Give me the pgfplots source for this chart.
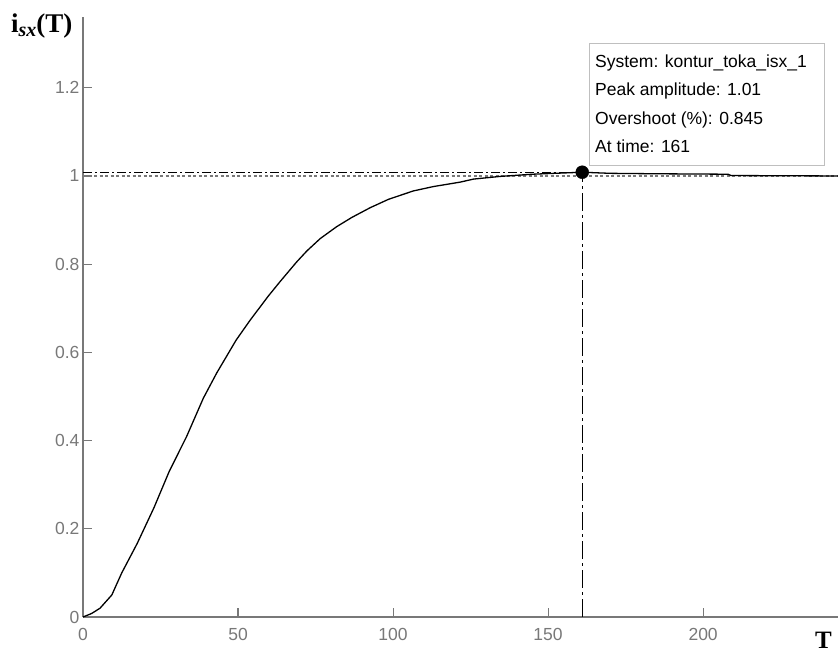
\documentclass[border=0pt]{standalone}
\usepackage{pgfplots}
\pgfplotsset{compat=1.18}
\usepackage{fontspec}
\setmainfont{Liberation Sans}
\newfontfamily\serifb{Liberation Serif}
\definecolor{axgray}{RGB}{120,120,120}
\begin{document}
\begin{tikzpicture}[x=1pt,y=1pt]
\useasboundingbox (0,0) rectangle (838,655);
\begin{axis}[
  at={(83pt,38pt)}, anchor=south west,
  scale only axis, width=755pt, height=600pt,
  xmin=0, xmax=243.5, ymin=0, ymax=1.3605,
  axis lines=left,
  axis line style={-, draw=axgray, line width=1.1pt},
  tick align=inside, major tick length=9pt,
  tick style={draw=axgray, line width=1.1pt},
  xtick={0,50,100,150,200},
  ytick={0,0.2,0.4,0.6,0.8,1,1.2},
  yticklabels={0,0.2,0.4,0.6,0.8,1,1.2},
  ticklabel style={font=\fontsize{17.5}{17.5}\selectfont, text=axgray},
  xticklabel style={yshift=-8pt},
  /pgf/number format/assume math mode=true,
  clip=false,
]
\addplot[axgray, line width=1.8pt, dash pattern=on 3pt off 2.5pt] coordinates {(0,1) (243.5,1)};
\addplot[black, line width=1pt, dash pattern=on 9pt off 3pt on 2pt off 3pt] coordinates {(0,1.0085) (161,1.0085)};
\addplot[black, line width=1pt, dash pattern=on 18pt off 4pt on 3pt off 4pt] coordinates {(161,0) (161,1.0085)};
\addplot[black, line width=1.3pt] coordinates {
(0,0) (2.8,0.008) (5.5,0.02) (9.3,0.05) (12.5,0.10) (17.5,0.167) (22.9,0.248)
(27.8,0.33) (33.4,0.409) (38.8,0.496) (43.1,0.553) (49.4,0.628) (53.9,0.673)
(59.8,0.728) (63.5,0.760) (68.9,0.805) (72.2,0.830) (76.5,0.858) (81.8,0.885)
(86.7,0.906) (92.6,0.928) (98.5,0.947) (106.5,0.966) (113,0.976) (121.6,0.986)
(126,0.993) (134.5,0.999) (145,1.004) (161,1.0085) (170,1.006) (185,1.005)
(208,1.004) (209,1.001) (243.5,1.0)
};
\addplot[only marks, mark=*, mark size=6.5pt, black] coordinates {(161,1.0085)};
\end{axis}
% data tip box
\draw[black!25, fill=white, line width=1pt] (589,489) rectangle (824,611);
\begin{scope}[every node/.style={anchor=west, inner sep=0pt, text height=13pt, text depth=4pt, font=\fontsize{17.5}{20}\selectfont}]
\node at (595,592) {System: kontur\_toka\_isx\_1};
\node at (595,564) {Peak amplitude: 1.01};
\node at (595,535) {Overshoot (\%): 0.845};
\node at (595,507) {At time: 161};
\end{scope}
% axis labels
\node[anchor=base west, inner sep=0pt, font=\serifb\bfseries\fontsize{27}{27}\selectfont] at (11,622)
  {i{\fontsize{20}{20}\selectfont\itshape\raisebox{-4pt}{sx}}(T)};
\node[anchor=south east, inner sep=0pt, font=\serifb\bfseries\fontsize{25}{25}\selectfont] at (832,6) {T};
\end{tikzpicture}
\end{document}
